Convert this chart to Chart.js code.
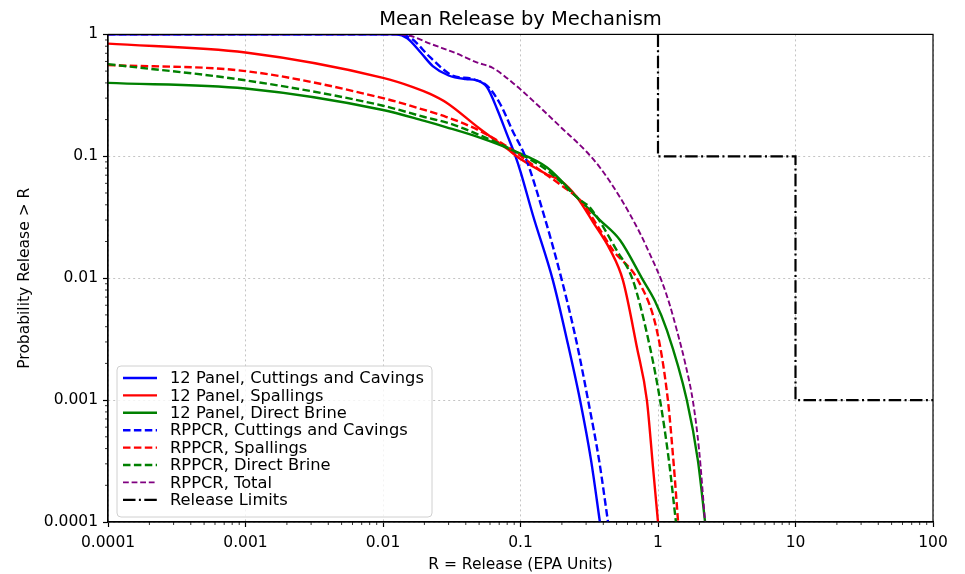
<!DOCTYPE html>
<html>
<head>
<meta charset="utf-8">
<script src="https://cdn.jsdelivr.net/npm/chart.js@4.4.1/dist/chart.umd.min.js"></script>
<style>
  body { margin: 0; background: #fff; }
  #wrap { width: 965px; height: 574px; }
</style>
</head>
<body>
<div id="wrap"><canvas id="release-chart" width="965" height="574"></canvas></div>
<script>
// ---- data ----
const chartTitle = 'Mean Release by Mechanism';
const xTitle = 'R = Release (EPA Units)';
const yTitle = 'Probability Release > R';

const xTicks = [0.0001, 0.001, 0.01, 0.1, 1, 10, 100];
const xTickLabels = ['0.0001', '0.001', '0.01', '0.1', '1', '10', '100'];
const yTicks = [0.0001, 0.001, 0.01, 0.1, 1];
const yTickLabels = ['0.0001', '0.001', '0.01', '0.1', '1'];

const seriesNames = [
  '12 Panel, Cuttings and Cavings',
  '12 Panel, Spallings',
  '12 Panel, Direct Brine',
  'RPPCR, Cuttings and Cavings',
  'RPPCR, Spallings',
  'RPPCR, Direct Brine',
  'RPPCR, Total',
  'Release Limits'
];

// 12 Panel, Cuttings and Cavings
const panelCavR = [0.0001, 0.0125, 0.015, 0.019, 0.023, 0.03, 0.04, 0.048, 0.057, 0.068, 0.08, 0.092, 0.1, 0.123, 0.172, 0.218, 0.271, 0.326, 0.378];
const panelCavP = [1, 1, 0.93, 0.7, 0.55, 0.46, 0.43, 0.42, 0.37, 0.24, 0.15, 0.1, 0.075, 0.033, 0.0096, 0.0031, 0.001, 0.00032, 0.0001];
// 12 Panel, Spallings
const panelSpallR = [0.0001, 0.001, 0.01, 0.0165, 0.022, 0.029, 0.05, 0.08, 0.1, 0.137, 0.16, 0.194, 0.258, 0.336, 0.45, 0.556, 0.703, 0.83, 0.92, 1.0];
const panelSpallP = [0.84, 0.71, 0.44, 0.37, 0.325, 0.275, 0.17, 0.115, 0.095, 0.077, 0.07, 0.0636, 0.046, 0.029, 0.017, 0.0096, 0.0027, 0.001, 0.00028, 0.0001];
// 12 Panel, Direct Brine
const panelBrineR = [0.0001, 0.001, 0.01, 0.02, 0.029, 0.05, 0.088, 0.156, 0.258, 0.378, 0.53, 0.78, 0.95, 1.16, 1.62, 1.95, 2.2];
const panelBrineP = [0.40, 0.36, 0.24, 0.195, 0.173, 0.143, 0.112, 0.081, 0.046, 0.03, 0.0205, 0.0096, 0.0065, 0.00375, 0.001, 0.00032, 0.0001];
// RPPCR, Cuttings and Cavings
const rppcrCavR = [0.0001, 0.013, 0.016, 0.022, 0.032, 0.045, 0.057, 0.071, 0.088, 0.108, 0.148, 0.2, 0.254, 0.31, 0.373, 0.433];
const rppcrCavP = [1, 1, 0.93, 0.65, 0.46, 0.43, 0.38, 0.27, 0.16, 0.1, 0.033, 0.0096, 0.0031, 0.001, 0.00032, 0.0001];
// RPPCR, Spallings
const rppcrSpallR = [0.0001, 0.001, 0.01, 0.02, 0.029, 0.05, 0.088, 0.13, 0.22, 0.27, 0.378, 0.47, 0.716, 0.98, 1.18, 1.3, 1.4];
const rppcrSpallP = [0.56, 0.5, 0.3, 0.24, 0.21, 0.163, 0.112, 0.081, 0.053, 0.044, 0.025, 0.017, 0.0096, 0.00375, 0.001, 0.0003, 0.0001];
// RPPCR, Direct Brine
const rppcrBrineR = [0.0001, 0.001, 0.01, 0.02, 0.03, 0.05, 0.088, 0.156, 0.27, 0.32, 0.5, 0.657, 0.875, 1.035, 1.2, 1.35];
const rppcrBrineP = [0.57, 0.42, 0.26, 0.21, 0.187, 0.15, 0.112, 0.077, 0.044, 0.038, 0.017, 0.0096, 0.0027, 0.001, 0.00032, 0.0001];
// RPPCR, Total
const rppcrTotalR = [0.0001, 0.013, 0.016, 0.022, 0.034, 0.048, 0.063, 0.088, 0.13, 0.2, 0.3, 0.378, 0.53, 0.74, 0.9, 1.07, 1.22, 1.37, 1.57, 1.8, 1.99, 2.2];
const rppcrTotalP = [1, 1, 0.97, 0.84, 0.7, 0.59, 0.53, 0.4, 0.27, 0.17, 0.11, 0.081, 0.046, 0.0234, 0.0146, 0.0093, 0.006, 0.00375, 0.00205, 0.00096, 0.00039, 0.0001];
// Release Limits
const limitR = [1, 1, 10, 10, 100];
const limitP = [1, 0.1, 0.1, 0.001, 0.001];

const seriesR = [panelCavR, panelSpallR, panelBrineR, rppcrCavR, rppcrSpallR, rppcrBrineR, rppcrTotalR, limitR];
const seriesP = [panelCavP, panelSpallP, panelBrineP, rppcrCavP, rppcrSpallP, rppcrBrineP, rppcrTotalP, limitP];

// ---- styles ----
const FONT = 'DejaVu Sans';
const colors = ['#0000ff', '#ff0000', '#008000', '#0000ff', '#ff0000', '#008000', '#800080', '#000000'];
const widths = [2.4, 2.4, 2.4, 2.4, 2.4, 2.4, 1.9, 2.2];
const dashes = [[], [], [], [7.5, 3.4], [7.5, 3.4], [7.5, 3.4], [5.8, 2.8], [12.5, 3.4, 2, 3.4]];

function toPoints(rs, ps) {
  return rs.map((r, i) => ({ x: r, y: ps[i] }));
}

const datasets = seriesNames.map((name, i) => ({
  label: name,
  data: toPoints(seriesR[i], seriesP[i]),
  borderColor: colors[i],
  backgroundColor: colors[i],
  borderWidth: widths[i],
  borderDash: dashes[i],
  pointRadius: 0,
  fill: false,
  cubicInterpolationMode: i === 7 ? 'default' : 'monotone',
  tension: 0,
  order: -i
}));

function labelFor(v, ticks, labels) {
  for (let i = 0; i < ticks.length; i++) {
    if (Math.abs(Math.log10(v) - Math.log10(ticks[i])) < 1e-6) return labels[i];
  }
  return '';
}

// frame, minor ticks and legend box
const framePlugin = {
  id: 'framePlugin',
  afterDraw(chart) {
    const { ctx, chartArea: { left, right, top, bottom } } = chart;
    const xs = chart.scales.x, ys = chart.scales.y;

    ctx.save();
    // minor ticks
    ctx.strokeStyle = '#000';
    ctx.lineWidth = 0.8;
    ctx.beginPath();
    for (let e = -4; e < 2; e++) {
      for (let k = 2; k <= 9; k++) {
        const px = xs.getPixelForValue(k * Math.pow(10, e));
        ctx.moveTo(px, bottom);
        ctx.lineTo(px, bottom + 3);
      }
    }
    for (let e = -4; e < 0; e++) {
      for (let k = 2; k <= 9; k++) {
        const py = ys.getPixelForValue(k * Math.pow(10, e));
        ctx.moveTo(left, py);
        ctx.lineTo(left - 3, py);
      }
    }
    ctx.stroke();

    // full box round the plot
    ctx.lineWidth = 1.2;
    ctx.strokeRect(left, top, right - left, bottom - top);

    // legend, lower left inside the plot
    const bx = left + 9, by = bottom - 156, bw = 315, bh = 151;
    ctx.beginPath();
    ctx.roundRect(bx, by, bw, bh, 4);
    ctx.fillStyle = 'rgba(255,255,255,0.8)';
    ctx.fill();
    ctx.strokeStyle = '#d0d0d0';
    ctx.lineWidth = 1;
    ctx.stroke();

    ctx.font = '16.3px "' + FONT + '"';
    ctx.textBaseline = 'middle';
    ctx.textAlign = 'left';
    chart.data.datasets.forEach((ds, i) => {
      const y = by + 12 + i * 17.4;
      ctx.beginPath();
      ctx.setLineDash(ds.borderDash || []);
      ctx.strokeStyle = ds.borderColor;
      ctx.lineWidth = ds.borderWidth;
      ctx.moveTo(bx + 6, y);
      ctx.lineTo(bx + 40, y);
      ctx.stroke();
      ctx.setLineDash([]);
      ctx.fillStyle = '#000';
      ctx.fillText(ds.label, bx + 53, y + 1);
    });
    ctx.restore();
  }
};

const tickFont = { family: FONT, size: 15.5 };

const config = {
  type: 'line',
  data: { datasets },
  options: {
    responsive: false,
    animation: false,
    layout: { padding: { left: 8, right: 32, top: 0, bottom: 0 } },
    plugins: {
      legend: { display: false },
      tooltip: { enabled: false },
      title: {
        display: true,
        text: chartTitle,
        fullSize: false,
        color: '#000',
        font: { family: FONT, size: 19.5, weight: 'normal' },
        padding: { top: 8, bottom: 3 }
      }
    },
    scales: {
      x: {
        type: 'logarithmic',
        min: 0.0001,
        max: 100,
        afterBuildTicks: s => { s.ticks = xTicks.map(v => ({ value: v })); },
        afterFit: s => { s.height = 52; },
        ticks: {
          callback: v => labelFor(v, xTicks, xTickLabels),
          color: '#000',
          font: tickFont,
          padding: 7,
          maxRotation: 0,
          autoSkip: false
        },
        grid: { color: '#c4c4c4', lineWidth: 1, tickColor: '#000', tickLength: 5, tickWidth: 1.2 },
        border: { color: '#000', width: 1.2, dash: [2, 3] },
        title: { display: true, text: xTitle, color: '#000', font: tickFont, padding: { top: 0, bottom: 0 } }
      },
      y: {
        type: 'logarithmic',
        min: 0.0001,
        max: 1,
        afterBuildTicks: s => { s.ticks = yTicks.map(v => ({ value: v })); },
        afterFit: s => { s.width = 100; },
        ticks: {
          callback: v => labelFor(v, yTicks, yTickLabels),
          color: '#000',
          font: tickFont,
          padding: 5,
          autoSkip: false
        },
        grid: { color: '#c4c4c4', lineWidth: 1, tickColor: '#000', tickLength: 5, tickWidth: 1.2 },
        border: { color: '#000', width: 1.2, dash: [2, 3] },
        title: { display: true, text: yTitle, color: '#000', font: tickFont, padding: { top: 8, bottom: 0 } }
      }
    }
  },
  plugins: [framePlugin]
};

const releaseChart = new Chart(document.getElementById('release-chart'), config);
</script>
</body>
</html>
